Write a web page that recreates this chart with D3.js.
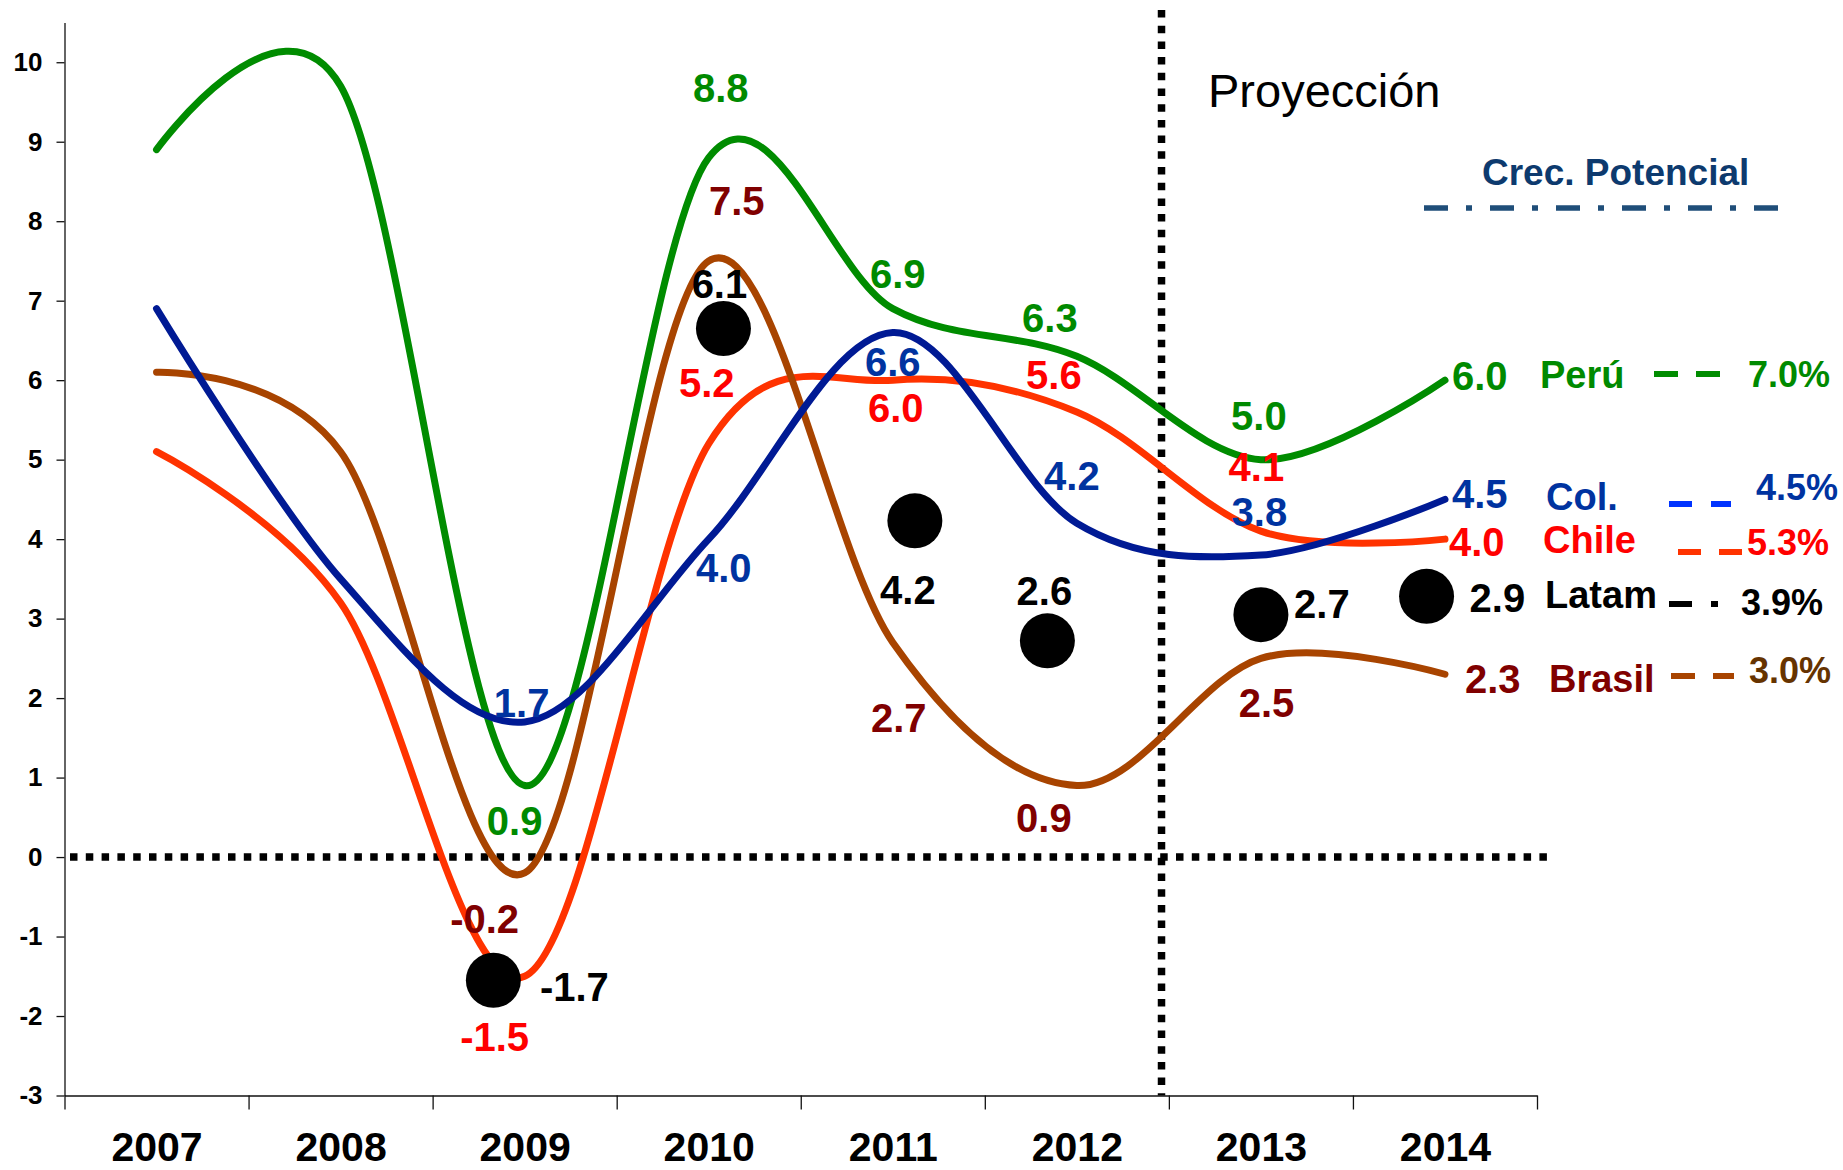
<!DOCTYPE html>
<html>
<head>
<meta charset="utf-8">
<script src="https://cdn.jsdelivr.net/npm/d3@7"></script>
<style>
  body { margin: 0; background: #fff; }
  svg text { font-family: "Liberation Sans", Arial, sans-serif; font-weight: bold; }
</style>
</head>
<body>
<div id="chart"></div>
<script>
// DATA
const years = [2007, 2008, 2009, 2010, 2011, 2012, 2013, 2014];
const peru = [8.9, 9.7, 0.9, 8.8, 6.9, 6.3, 5.0, 6.0];
const colombia = [6.9, 3.5, 1.7, 4.0, 6.6, 4.2, 3.8, 4.5];
const chile = [5.1, 3.2, -1.5, 5.2, 6.0, 5.6, 4.1, 4.0];
const brasil = [6.1, 5.1, -0.2, 7.5, 2.7, 0.9, 2.5, 2.3];

// latam: published value + where the round marker sits on the chart
const latamYears = [2009, 2010, 2011, 2012, 2013, 2014];
const latamValues = [-1.7, 6.1, 4.2, 2.6, 2.7, 2.9];
const latamMarkerYear = [2008.83, 2010.08, 2011.12, 2011.84, 2013.0, 2013.9];
const latamMarkerValue = [-1.55, 6.65, 4.23, 2.72, 3.05, 3.28];

const seriesNames = ["Perú", "Col.", "Chile", "Latam", "Brasil"];
const potentialGrowth = [7.0, 4.5, 5.3, 3.9, 3.0];
const yTicks = [-3, -2, -1, 0, 1, 2, 3, 4, 5, 6, 7, 8, 9, 10];
const projectionStart = 2012.46;
const zeroLineEnd = 2014.58;

// SIZES
width = 1843;
height = 1170;

svg = d3.select("#chart")
  .append("svg")
    .attr("width", width)
    .attr("height", height);

// SCALES
x = d3.scaleLinear().domain([2006.5, 2014.5]).range([64.5, 1537]);
y = d3.scaleLinear().domain([-3, 10.5]).range([1095.5, 22.5]);

// AXES
yAxis = svg.append("g")
  .attr("transform", "translate(" + x(2006.5) + ",0)")
  .call(d3.axisLeft(y).tickValues(yTicks).tickSize(8).tickSizeOuter(0).tickPadding(14)
    .tickFormat(function(d) { return String(d); }));

xAxis = svg.append("g")
  .attr("transform", "translate(0," + y(-3) + ")")
  .call(d3.axisBottom(x).tickValues(d3.range(2006.5, 2015, 1)).tickSize(14).tickSizeOuter(0).tickFormat(""));

yearAxis = svg.append("g")
  .attr("transform", "translate(0," + y(-3) + ")")
  .call(d3.axisBottom(x).tickValues(years).tickSize(0).tickPadding(36).tickFormat(String));
yearAxis.select(".domain").remove();

svg.selectAll(".domain, .tick line").attr("stroke", "#111").attr("stroke-width", 1.3);
yAxis.selectAll("text").attr("font-size", "26px").attr("fill", "#000")
  .attr("font-family", "Liberation Sans, Arial, sans-serif");
yearAxis.selectAll("text").attr("font-size", "41px").attr("fill", "#000")
  .attr("font-family", "Liberation Sans, Arial, sans-serif");

// REFERENCE LINES (zero and projection)
svg.append("line")
  .attr("x1", 70).attr("x2", x(zeroLineEnd))
  .attr("y1", y(0)).attr("y2", y(0))
  .attr("stroke", "#000").attr("stroke-width", 7.5)
  .attr("stroke-dasharray", "7.5 8.3");

svg.append("line")
  .attr("x1", x(projectionStart)).attr("x2", x(projectionStart))
  .attr("y1", 10).attr("y2", y(-3))
  .attr("stroke", "#000").attr("stroke-width", 7.5)
  .attr("stroke-dasharray", "7.5 8.2");

svg.append("text")
  .text("Proyección")
  .attr("x", 1208).attr("y", 107)
  .attr("font-size", "47px")
  .style("font-weight", "normal")
  .attr("fill", "#000");

// LINES
series = [
  { key: "peru", values: peru, line: "#008C00", label: "#008A00",
    offs: [[-10, 49], [12, -56], [5, -21], [-27, -24], [-2, -30]], end: [7, 10] },
  { key: "chile", values: chile, line: "#FF3300", label: "#FF0000",
    offs: [[-30, 75], [-2, -47], [3, 41.5], [-23, -23], [-4.5, -50]], end: [4, 17] },
  { key: "brasil", values: brasil, line: "#A84400", label: "#800000",
    offs: [[-40, 60], [28, -46], [6, 89.5], [-33, 46], [5.6, 58.6]], end: [20, 19] },
  { key: "colombia", values: colombia, line: "#001A94", label: "#0033A0",
    offs: [[-3, -5], [15, 43], [0, 44], [-5, -33], [-1.5, -28.6]], end: [7, 9] }
];

lineGen = d3.line()
  .x(function(d, i) { return x(years[i]); })
  .y(function(d) { return y(d); })
  .curve(d3.curveCardinal.tension(0));

svg.selectAll(".serie")
  .data(series)
  .enter()
  .append("path")
    .attr("class", "serie")
    .attr("d", function(d) { return lineGen(d.values); })
    .attr("fill", "none")
    .attr("stroke", function(d) { return d.line; })
    .attr("stroke-width", 7)
    .attr("stroke-linecap", "round");

// LATAM MARKERS
svg.selectAll(".latam")
  .data(latamValues)
  .enter()
  .append("circle")
    .attr("class", "latam")
    .attr("cx", function(d, i) { return x(latamMarkerYear[i]); })
    .attr("cy", function(d, i) { return y(latamMarkerValue[i]); })
    .attr("r", 27.5)
    .attr("fill", "#000");

// VALUE LABELS (2009-2013 on the chart, 2014 next to the line end)
series.forEach(function(s) {
  s.values.forEach(function(v, i) {
    if (i < 2) return;
    last = i === s.values.length - 1;
    off = last ? s.end : s.offs[i - 2];
    svg.append("text")
      .text(v.toFixed(1))
      .attr("x", x(years[i]) + off[0])
      .attr("y", y(v) + off[1])
      .attr("text-anchor", last ? "start" : "middle")
      .attr("font-size", "40px")
      .attr("fill", s.label);
  });
});

latamOffs = [[81, 21], [-4, -31], [-7, 83], [-3, -36], [61, 3], [43, 16]];
latamValues.forEach(function(v, i) {
  last = i === latamValues.length - 1;
  svg.append("text")
    .text(v.toFixed(1))
    .attr("x", x(latamMarkerYear[i]) + latamOffs[i][0])
    .attr("y", y(latamMarkerValue[i]) + latamOffs[i][1])
    .attr("text-anchor", last ? "start" : "middle")
    .attr("font-size", "40px")
    .attr("fill", "#000");
});

// LEGEND: CREC. POTENCIAL
svg.append("text")
  .text("Crec. Potencial")
  .attr("x", 1482).attr("y", 185)
  .attr("font-size", "37px")
  .attr("fill", "#0D3A6E");

svg.append("line")
  .attr("x1", 1424).attr("x2", 1780)
  .attr("y1", 208).attr("y2", 208)
  .attr("stroke", "#1F4E79").attr("stroke-width", 5.5)
  .attr("stroke-dasharray", "24 18 6 18");

legendRows = [
  { nameX: 1540, nameY: 388, d1: 1654, d2: 1721, dashY: 374, pctX: 1748, pctY: 387,
    name: "#008A00", dash: "#008C00", pct: "#008A00", pattern: "24 18" },
  { nameX: 1546, nameY: 510, d1: 1669, d2: 1731, dashY: 504, pctX: 1756, pctY: 500,
    name: "#0033A0", dash: "#0033FF", pct: "#0033A0", pattern: "23 19" },
  { nameX: 1543, nameY: 553, d1: 1678, d2: 1743, dashY: 552, pctX: 1747, pctY: 555,
    name: "#FF0000", dash: "#FF3300", pct: "#FF0000", pattern: "23 18" },
  { nameX: 1545, nameY: 608, d1: 1669, d2: 1718, dashY: 604, pctX: 1741, pctY: 615,
    name: "#000000", dash: "#000000", pct: "#000000", pattern: "23 19 7 40" },
  { nameX: 1549, nameY: 692, d1: 1671, d2: 1734, dashY: 676, pctX: 1749, pctY: 683,
    name: "#800000", dash: "#A84400", pct: "#663300", pattern: "24 18" }
];

legend = svg.append("g").attr("class", "legend");

legend.selectAll(".lname")
  .data(seriesNames)
  .enter()
  .append("text")
    .attr("class", "lname")
    .text(function(d) { return d; })
    .attr("x", function(d, i) { return legendRows[i].nameX; })
    .attr("y", function(d, i) { return legendRows[i].nameY; })
    .attr("font-size", "38px")
    .attr("fill", function(d, i) { return legendRows[i].name; });

legend.selectAll(".ldash")
  .data(seriesNames)
  .enter()
  .append("line")
    .attr("class", "ldash")
    .attr("x1", function(d, i) { return legendRows[i].d1; })
    .attr("x2", function(d, i) { return legendRows[i].d2; })
    .attr("y1", function(d, i) { return legendRows[i].dashY; })
    .attr("y2", function(d, i) { return legendRows[i].dashY; })
    .attr("stroke", function(d, i) { return legendRows[i].dash; })
    .attr("stroke-width", 6)
    .attr("stroke-dasharray", function(d, i) { return legendRows[i].pattern; });

legend.selectAll(".lpct")
  .data(potentialGrowth)
  .enter()
  .append("text")
    .attr("class", "lpct")
    .text(function(d) { return d.toFixed(1) + "%"; })
    .attr("x", function(d, i) { return legendRows[i].pctX; })
    .attr("y", function(d, i) { return legendRows[i].pctY; })
    .attr("font-size", "36px")
    .attr("fill", function(d, i) { return legendRows[i].pct; });
</script>
</body>
</html>
